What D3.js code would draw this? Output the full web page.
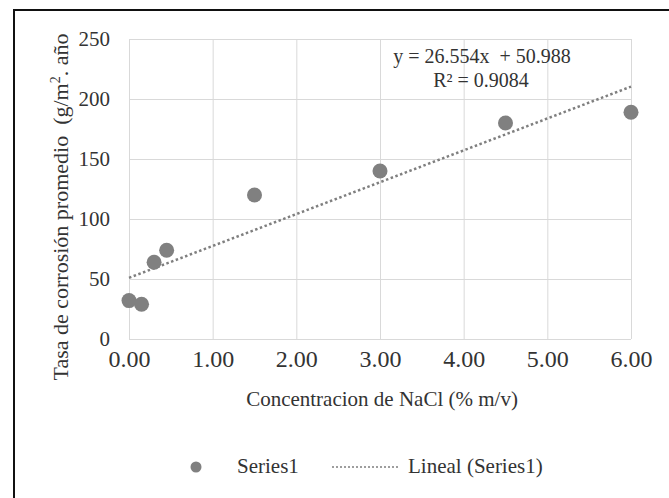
<!DOCTYPE html>
<html lang="es">
<head>
<meta charset="UTF-8">
<title>Tasa de corrosión vs NaCl</title>
<script src="https://d3js.org/d3.v7.min.js"></script>
<style>
  body { margin: 0; padding: 0; background: #fff; }
  svg { display: block; }
  .grid line { stroke: #d9d9d9; stroke-width: 1; }
  .grid path { display: none; }
  .tick-y text { font-size: 21px; fill: #333; }
  .tick-x text { font-size: 24px; fill: #333; }
</style>
</head>
<body>
<div id="chart"></div>
<script>
// data
const concentration = [0, 0.15, 0.3, 0.45, 1.5, 3.0, 4.5, 6.0];
const corrosionRate = [32, 29, 64, 74, 120, 140, 180, 189];
const xTicks = [0, 1, 2, 3, 4, 5, 6];
const yTicks = [0, 50, 100, 150, 200, 250];
const trendSlope = 26.554;
const trendIntercept = 50.988;
const trendR2 = 0.9084;

const W = 669, H = 498;
const plot = {left: 129, right: 631, top: 39, bottom: 339};
const serif = '"Liberation Serif"';

const svg = d3.select("#chart").append("svg")
    .attr("width", W)
    .attr("height", H)
    .attr("font-family", serif);

// outer frame (right and bottom run past the picture)
svg.append("rect")
    .attr("x", 14).attr("y", 10)
    .attr("width", W).attr("height", H)
    .attr("fill", "none")
    .attr("stroke", "#111")
    .attr("stroke-width", 2);

const x = d3.scaleLinear().domain([0, 6]).range([plot.left, plot.right]);
const y = d3.scaleLinear().domain([0, 250]).range([plot.bottom, plot.top]);

// gridlines
svg.append("g")
    .attr("class", "grid")
    .attr("transform", `translate(0,${plot.bottom})`)
    .call(d3.axisBottom(x).tickValues(xTicks).tickSize(-(plot.bottom - plot.top)).tickFormat(""));
svg.append("g")
    .attr("class", "grid")
    .attr("transform", `translate(${plot.left},0)`)
    .call(d3.axisLeft(y).tickValues(yTicks).tickSize(-(plot.right - plot.left)).tickFormat(""));

// tick labels
const gx = svg.append("g")
    .attr("class", "tick-x")
    .attr("transform", `translate(0,${plot.bottom})`)
    .call(d3.axisBottom(x).tickValues(xTicks).tickSize(0).tickPadding(11).tickFormat(d3.format(".2f")))
    .attr("font-family", serif);
gx.select(".domain").remove();

const gy = svg.append("g")
    .attr("class", "tick-y")
    .attr("transform", `translate(${plot.left},0)`)
    .call(d3.axisLeft(y).tickValues(yTicks).tickSize(0).tickPadding(19))
    .attr("font-family", serif);
gy.select(".domain").remove();

// trend line
const trend = d3.line()
    .x(d => x(d))
    .y(d => y(trendSlope * d + trendIntercept));
svg.append("path")
    .datum([0, 6])
    .attr("d", trend)
    .attr("fill", "none")
    .attr("stroke", "#7f7f7f")
    .attr("stroke-width", 2.5)
    .attr("stroke-dasharray", "2.5,2.5");

// points
svg.append("g")
    .selectAll("circle")
    .data(concentration)
    .join("circle")
    .attr("cx", d => x(d))
    .attr("cy", (d, i) => y(corrosionRate[i]))
    .attr("r", 7.5)
    .attr("fill", "#808080");

// equation
svg.append("text")
    .attr("x", 482).attr("y", 63)
    .attr("text-anchor", "middle")
    .attr("font-size", 20)
    .attr("fill", "#333")
    .attr("xml:space", "preserve")
    .text(`y = ${trendSlope}x  + ${trendIntercept}`);
svg.append("text")
    .attr("x", 481).attr("y", 87)
    .attr("text-anchor", "middle")
    .attr("font-size", 20)
    .attr("fill", "#333")
    .text(`R² = ${trendR2}`);

// axis titles
svg.append("text")
    .attr("x", (plot.left + plot.right) / 2 + 2)
    .attr("y", 406)
    .attr("text-anchor", "middle")
    .attr("font-size", 21)
    .attr("fill", "#333")
    .text("Concentracion de NaCl (% m/v)");

const yt = svg.append("text")
    .attr("transform", "translate(68,207) rotate(-90)")
    .attr("text-anchor", "middle")
    .attr("font-size", 22)
    .attr("fill", "#333")
    .attr("xml:space", "preserve");
yt.append("tspan").text("Tasa de corrosión promedio  (g/m");
yt.append("tspan").attr("font-size", 14).attr("dy", -8).text("2");
yt.append("tspan").attr("dy", 8).text(". año");

// legend
const legend = svg.append("g");
legend.append("circle")
    .attr("cx", 196).attr("cy", 467)
    .attr("r", 5.5)
    .attr("fill", "#808080");
legend.append("text")
    .attr("x", 237).attr("y", 473)
    .attr("font-size", 21)
    .attr("fill", "#333")
    .text("Series1");
legend.append("line")
    .attr("x1", 332).attr("x2", 399)
    .attr("y1", 467).attr("y2", 467)
    .attr("stroke", "#7f7f7f")
    .attr("stroke-width", 1.5)
    .attr("stroke-dasharray", "2,2");
legend.append("text")
    .attr("x", 408).attr("y", 473)
    .attr("font-size", 21)
    .attr("fill", "#333")
    .text("Lineal (Series1)");
</script>
</body>
</html>
